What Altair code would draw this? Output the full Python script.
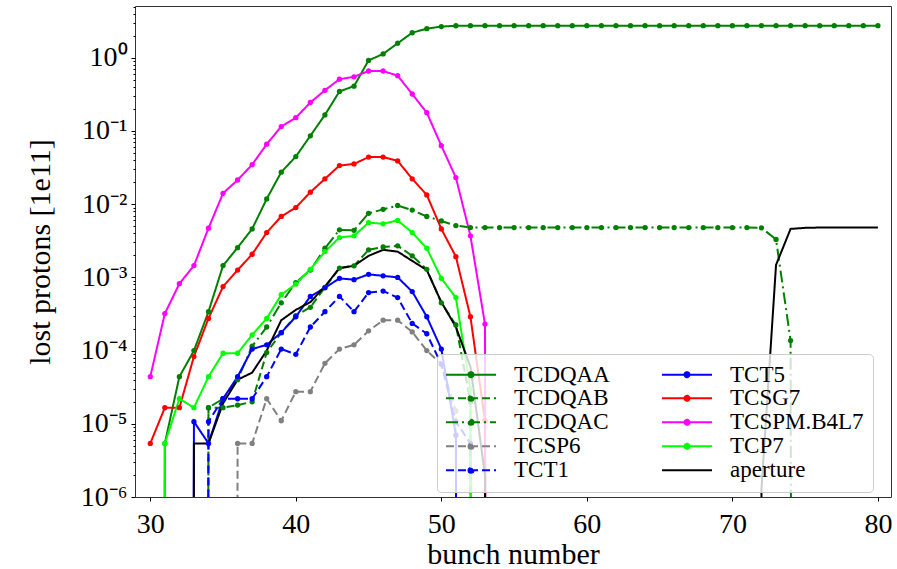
import altair as alt
import pandas as pd

bunch = list(range(30, 81))

series_names = ["TCDQAA", "TCDQAB", "TCDQAC", "TCSP6", "TCT1",
                "TCT5", "TCSG7", "TCSPM.B4L7", "TCP7", "aperture"]

TCDQAA = [0, 5.4e-6, 4.4e-5, 1.0e-4, 3.4e-4, 1.45e-3, 2.55e-3, 4.6e-3, 0.0118, 0.0274,
          0.0447, 0.086, 0.166, 0.347, 0.41, 0.92, 1.13, 1.58, 2.2, 2.5,
          2.67, 2.74, 2.75, 2.75, 2.75, 2.75, 2.75, 2.75, 2.75, 2.75,
          2.75, 2.75, 2.75, 2.75, 2.75, 2.75, 2.75, 2.75, 2.75, 2.75,
          2.75, 2.75, 2.75, 2.75, 2.75, 2.75, 2.75, 2.75, 2.75, 2.75, 2.75]
TCDQAB = [0, 0, 0, 0, 1.66e-5, 1.66e-5, 1.8e-5, 2.0e-5, 9.4e-5, 1.76e-4,
          3.0e-4, 3.9e-4, 7.3e-4, 1.34e-3, 1.44e-3, 2.38e-3, 2.6e-3, 2.7e-3, 1.97e-3, 1.29e-3,
          4.5e-4, 2.24e-4, 2e-5, 0, 0, 0, 0, 0, 0, 0,
          0, 0, 0, 0, 0, 0, 0, 0, 0, 0,
          0, 0, 0, 0, 0, 0, 0, 0, 0, 0, 0]
TCDQAC = [0, 0, 0, 0, 1.66e-5, 2.2e-5, 4.0e-5, 1.15e-4, 2.1e-4, 4.5e-4,
          8.5e-4, 1.26e-3, 2.5e-3, 4.46e-3, 4.4e-3, 7.5e-3, 8.5e-3, 9.6e-3, 8.3e-3, 6.8e-3,
          5.9e-3, 5.1e-3, 4.8e-3, 4.8e-3, 4.8e-3, 4.8e-3, 4.8e-3, 4.8e-3, 4.8e-3, 4.8e-3,
          4.8e-3, 4.8e-3, 4.8e-3, 4.8e-3, 4.8e-3, 4.8e-3, 4.8e-3, 4.8e-3, 4.8e-3, 4.8e-3,
          4.8e-3, 4.8e-3, 4.75e-3, 3.3e-3, 1.37e-4, 0, 0, 0, 0, 0, 0]
TCSP6 = [0, 0, 0, 0, 0, 0, 5.4e-6, 5.4e-6, 2.2e-5, 1.1e-5,
         2.75e-5, 2.75e-5, 6.7e-5, 1.05e-4, 1.2e-4, 1.86e-4, 2.6e-4, 2.6e-4, 1.8e-4, 1.0e-4,
         6.5e-5, 1.5e-5, 0, 0, 0, 0, 0, 0, 0, 0,
         0, 0, 0, 0, 0, 0, 0, 0, 0, 0,
         0, 0, 0, 0, 0, 0, 0, 0, 0, 0, 0]
TCT1 = [0, 0, 0, 0, 1.07e-5, 2.2e-5, 2.2e-5, 2.2e-5, 4.4e-5, 1.05e-4,
        8.9e-5, 2.1e-4, 3.4e-4, 5.5e-4, 3.4e-4, 6.2e-4, 6.5e-4, 5.3e-4, 2.35e-4, 1.7e-4,
        6.5e-5, 1.07e-5, 5.4e-6, 0, 0, 0, 0, 0, 0, 0,
        0, 0, 0, 0, 0, 0, 0, 0, 0, 0,
        0, 0, 0, 0, 0, 0, 0, 0, 0, 0, 0]
TCT5 = [0, 0, 0, 1.07e-5, 5.4e-6, 2.2e-5, 4.4e-5, 1.05e-4, 1.2e-4, 1.76e-4,
        2.9e-4, 5.5e-4, 7.2e-4, 9.7e-4, 9.3e-4, 1.1e-3, 1.05e-3, 1.0e-3, 6.4e-4, 2.9e-4,
        1.05e-4, 7e-6, 0, 0, 0, 0, 0, 0, 0, 0,
        0, 0, 0, 0, 0, 0, 0, 0, 0, 0,
        0, 0, 0, 0, 0, 0, 0, 0, 0, 0, 0]
TCSG7 = [5.4e-6, 1.66e-5, 1.66e-5, 8.3e-5, 2.75e-4, 7.5e-4, 1.26e-3, 2.07e-3, 4.1e-3, 6.8e-3,
         9.0e-3, 0.0146, 0.0222, 0.0337, 0.0355, 0.044, 0.044, 0.039, 0.0222, 0.0134,
         4.6e-3, 1.92e-3, 2.9e-4, 1.1e-5, 0, 0, 0, 0, 0, 0,
         0, 0, 0, 0, 0, 0, 0, 0, 0, 0,
         0, 0, 0, 0, 0, 0, 0, 0, 0, 0, 0]
TCSPM = [4.4e-5, 3.2e-4, 8.2e-4, 1.45e-3, 4.7e-3, 0.0141, 0.0214, 0.0347, 0.066, 0.115,
         0.152, 0.245, 0.36, 0.51, 0.55, 0.66, 0.66, 0.57, 0.32, 0.178,
         0.063, 0.0231, 3.7e-3, 2.3e-4, 0, 0, 0, 0, 0, 0,
         0, 0, 0, 0, 0, 0, 0, 0, 0, 0,
         0, 0, 0, 0, 0, 0, 0, 0, 0, 0, 0]
TCP7 = [0, 5.4e-6, 2.2e-5, 1.66e-5, 4.4e-5, 9.2e-5, 9.2e-5, 1.64e-4, 2.75e-4, 5.8e-4,
        8.1e-4, 1.29e-3, 2.25e-3, 3.5e-3, 3.7e-3, 5.6e-3, 5.4e-3, 6.0e-3, 4.1e-3, 2.5e-3,
        9.7e-4, 5.3e-4, 3e-5, 0, 0, 0, 0, 0, 0, 0,
        0, 0, 0, 0, 0, 0, 0, 0, 0, 0,
        0, 0, 0, 0, 0, 0, 0, 0, 0, 0, 0]
aperture = [0, 0, 0, 5.4e-6, 5.4e-6, 1.9e-5, 4.0e-5, 5.0e-5, 1.0e-4, 2.6e-4,
            3.6e-4, 4.6e-4, 7.5e-4, 1.34e-3, 1.44e-3, 1.97e-3, 2.38e-3, 2.25e-3, 1.68e-3, 1.26e-3,
            4.6e-4, 2.1e-4, 6e-5, 2e-6, 0, 0, 0, 0, 0, 0,
            0, 0, 0, 0, 0, 0, 0, 0, 0, 0,
            0, 0, 1.3e-6, 1.48e-3, 4.6e-3, 4.75e-3, 4.8e-3, 4.8e-3, 4.8e-3, 4.8e-3, 4.8e-3]

series_values = [TCDQAA, TCDQAB, TCDQAC, TCSP6, TCT1, TCT5, TCSG7, TCSPM, TCP7, aperture]
series_colors = ["#008000", "#008000", "#008000", "#808080", "#0000ff",
                 "#0000ff", "#ff0000", "#ff00ff", "#00ff00", "#000000"]
series_dash = [[1, 0], [8, 4], [12, 4, 2, 4], [8, 4], [8, 4],
               [1, 0], [1, 0], [1, 0], [1, 0], [1, 0]]

y_major = [1e-6, 1e-5, 1e-4, 1e-3, 1e-2, 1e-1, 1.0]
x_ticks = [30, 40, 50, 60, 70, 80]

for v in series_values:
    assert len(v) == len(bunch)

rows = []
for s, vals in zip(series_names, series_values):
    for b, v in zip(bunch, vals):
        # non-positive values are clipped far below the axis, like matplotlib log scale
        rows.append({"bunch": b, "series": s, "lost": v if v > 0 else 1e-100,
                     "marker": (s != "aperture") and (v > 0)})
df = pd.DataFrame(rows)

y_minor = []
for k in range(-6, 1):
    for m in range(2, 10):
        val = m * 10.0 ** k
        if val <= 5.1:
            y_minor.append(val)
y_all = y_major + y_minor

FONT = "Liberation Serif"
is_major = "abs(log(datum.value)/LN10 - round(log(datum.value)/LN10)) < 0.001"
exp = "round(log(datum.value)/LN10)"
label_expr = (f"({is_major}) ? '10' + ({exp} < 0 ? '\u207b' : '') + "
              f"['\u2070','\u00b9','\u00b2','\u00b3','\u2074','\u2075','\u2076'][abs({exp})] : ''")

x_enc = alt.X("bunch:Q",
              scale=alt.Scale(domain=[28.95, 80.9], nice=False, zero=False),
              axis=alt.Axis(values=x_ticks, title="bunch number", grid=False,
                            labelFont=FONT, labelFontSize=28, labelColor="black",
                            labelBaseline="alphabetic", labelPadding=31,
                            tickColor="black", tickSize=4, domain=False,
                            titleFont=FONT, titleFontSize=30, titleFontWeight="normal",
                            titleColor="black", titleBaseline="alphabetic",
                            titleX=378, titleY=66, labelFlush=False))
y_enc = alt.Y("lost:Q",
              scale=alt.Scale(type="log", domain=[1e-6, 5.1], nice=False),
              axis=alt.Axis(values=y_all, labelExpr=label_expr, grid=False,
                            labelFont=FONT, labelFontSize=28, labelColor="black",
                            labelBaseline="middle", labelPadding=4, labelOverlap=False,
                            labelFlush=False,
                            tickColor="black",
                            tickSize=alt.condition(is_major, alt.value(4), alt.value(2)),
                            domain=False,
                            title="lost protons [1e11]",
                            titleFont=FONT, titleFontSize=30, titleFontWeight="normal",
                            titleColor="black", titleX=-80, titleY=245.5))

# legend symbol: a 50 px line with a dot (no dot for aperture), path in [-1, 1] units
shape_expr = ("datum.value === 'aperture' ? 'M-1,0H1' : "
              "'M-1,0H1M-0.1,0A0.1,0.1 0 1,0 0.1,0A0.1,0.1 0 1,0 -0.1,0Z'")
legend = alt.Legend(title=None, orient="none", legendX=302, legendY=348,
                    columns=2, columnPadding=52, rowPadding=0, padding=9,
                    clipHeight=22.6,
                    cornerRadius=4, strokeColor="#cccccc",
                    fillColor="rgba(255,255,255,0.8)",
                    labelFont=FONT, labelFontSize=23, labelColor="black", labelLimit=400,
                    symbolSize=2500, symbolType=alt.ExprRef(shape_expr),
                    symbolFillColor=alt.ExprRef("scale('color', datum.value)"),
                    symbolStrokeWidth=2, symbolOffset=-1, labelOffset=17)

color_enc = alt.Color("series:N", scale=alt.Scale(domain=series_names, range=series_colors),
                      legend=legend)
dash_enc = alt.StrokeDash("series:N", scale=alt.Scale(domain=series_names, range=series_dash),
                          legend=legend)

lines = alt.Chart(df).mark_line(strokeWidth=2, clip=True).encode(
    x=x_enc, y=y_enc, color=color_enc, strokeDash=dash_enc,
    order=alt.Order("bunch:Q"))
points = alt.Chart(df).transform_filter("datum.marker").mark_point(
    filled=True, size=28, opacity=1, clip=True).encode(
    x=x_enc, y=y_enc, color=color_enc)

chart = alt.layer(lines, points).properties(
    width=756, height=491,
    autosize=alt.AutoSizeParams(type="none"),
    padding={"left": 135, "top": 6, "right": 6, "bottom": 72},
    background="white",
).configure_view(stroke="#333333", strokeWidth=1)

chart.save("out.html", embed_options={"renderer": "svg", "actions": False})
